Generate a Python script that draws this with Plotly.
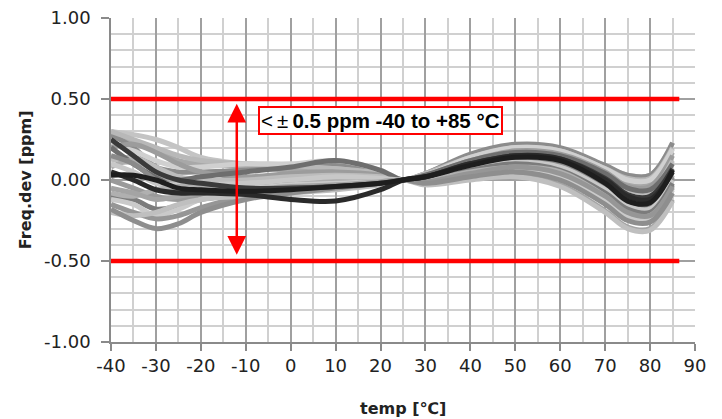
import plotly.graph_objects as go

# temperatures (°C) at which each curve is sampled
temps = [-40, -35, -30, -25, -20, -10, 0, 10, 20, 25, 30, 40, 50, 60, 70, 75, 80, 85]

# frequency deviation curves (ppm), one list per unit
c01 = [0.30, 0.28, 0.25, 0.20, 0.14, 0.10, 0.09, 0.08, 0.04, 0.0, 0.04, 0.15, 0.21, 0.19, 0.08, 0.03, 0.03, 0.23]
c02 = [0.27, 0.24, 0.18, 0.12, 0.10, 0.08, 0.06, 0.05, 0.03, 0.0, 0.03, 0.13, 0.19, 0.17, 0.06, -0.02, -0.02, 0.17]
c03 = [0.25, 0.15, 0.05, 0.00, -0.02, -0.05, -0.05, -0.04, -0.02, 0.0, 0.02, 0.10, 0.15, 0.13, 0.01, -0.09, -0.10, 0.07]
c04 = [0.03, 0.03, 0.00, -0.05, -0.06, -0.07, -0.06, -0.04, -0.02, 0.0, 0.02, 0.09, 0.14, 0.12, -0.02, -0.13, -0.14, 0.06]
c05 = [0.20, 0.22, 0.17, 0.10, 0.05, 0.02, 0.04, 0.05, 0.03, 0.0, 0.03, 0.12, 0.18, 0.16, 0.05, -0.04, -0.04, 0.15]
c06 = [0.10, 0.05, -0.02, -0.03, -0.03, -0.02, 0.00, 0.02, 0.01, 0.0, 0.01, 0.07, 0.11, 0.08, -0.06, -0.16, -0.18, 0.00]
c07 = [-0.18, -0.25, -0.30, -0.27, -0.20, -0.12, -0.08, -0.05, -0.02, 0.0, -0.02, 0.02, 0.05, 0.00, -0.15, -0.25, -0.26, -0.08]
c08 = [-0.15, -0.20, -0.24, -0.22, -0.17, -0.10, -0.06, -0.04, -0.02, 0.0, -0.01, 0.04, 0.08, 0.04, -0.10, -0.20, -0.22, -0.04]
c09 = [-0.10, -0.12, -0.18, -0.16, -0.12, -0.09, -0.07, -0.05, -0.02, 0.0, 0.00, 0.06, 0.10, 0.06, -0.08, -0.18, -0.20, -0.02]
c10 = [0.05, 0.00, -0.06, -0.08, -0.08, -0.09, -0.12, -0.13, -0.06, 0.0, 0.02, 0.10, 0.15, 0.13, 0.00, -0.10, -0.12, 0.05]
c11 = [0.15, 0.10, 0.00, -0.06, -0.08, -0.08, -0.06, -0.05, -0.02, 0.0, 0.01, 0.08, 0.12, 0.09, -0.05, -0.15, -0.16, 0.02]
c12 = [-0.05, -0.08, -0.12, -0.10, -0.08, -0.06, -0.04, -0.03, -0.01, 0.0, -0.02, 0.01, 0.03, -0.03, -0.19, -0.29, -0.30, -0.12]
c13 = [0.28, 0.20, 0.08, 0.05, 0.05, 0.06, 0.08, 0.10, 0.05, 0.0, 0.04, 0.16, 0.22, 0.20, 0.09, 0.03, 0.03, 0.23]
c14 = [0.22, 0.18, 0.12, 0.08, 0.08, 0.10, 0.10, 0.12, 0.06, 0.0, 0.03, 0.14, 0.20, 0.18, 0.07, 0.00, 0.00, 0.19]
c15 = [-0.20, -0.22, -0.20, -0.15, -0.12, -0.10, -0.08, -0.06, -0.03, 0.0, -0.03, 0.00, 0.02, -0.04, -0.20, -0.30, -0.31, -0.13]
c16 = [0.00, -0.05, -0.10, -0.12, -0.10, -0.06, -0.03, -0.02, -0.01, 0.0, 0.01, 0.05, 0.09, 0.05, -0.09, -0.19, -0.21, -0.03]
c17 = [0.12, 0.14, 0.08, 0.02, 0.00, 0.00, 0.02, 0.03, 0.02, 0.0, 0.02, 0.11, 0.16, 0.14, 0.03, -0.06, -0.07, 0.12]
c18 = [-0.12, -0.15, -0.22, -0.18, -0.12, -0.06, -0.03, -0.02, -0.01, 0.0, -0.01, 0.03, 0.06, 0.02, -0.12, -0.22, -0.24, -0.06]
c19 = [0.20, 0.10, 0.02, 0.00, 0.02, 0.05, 0.08, 0.12, 0.06, 0.0, 0.03, 0.12, 0.17, 0.15, 0.04, -0.05, -0.06, 0.10]
c20 = [0.08, 0.12, 0.05, -0.02, -0.05, -0.04, -0.02, 0.00, 0.00, 0.0, 0.02, 0.08, 0.13, 0.10, -0.04, -0.14, -0.15, 0.03]
c21 = [-0.08, -0.10, -0.06, -0.04, -0.04, -0.05, -0.04, -0.02, -0.01, 0.0, 0.00, 0.05, 0.08, 0.05, -0.10, -0.21, -0.22, -0.05]
c22 = [0.30, 0.25, 0.20, 0.15, 0.12, 0.10, 0.09, 0.07, 0.04, 0.0, 0.04, 0.14, 0.20, 0.18, 0.07, 0.01, 0.01, 0.20]

curves = [c01, c02, c13, c22, c14, c05, c17, c19, c20, c11, c06, c16, c09,
          c21, c18, c08, c12, c15, c07, c03, c10, c04]
shades = ["#c4c4c4", "#a8a8a8", "#8c8c8c", "#b8b8b8", "#d0d0d0", "#9c9c9c", "#bcbcbc",
          "#6e6e6e", "#adadad", "#8a8a8a", "#c8c8c8", "#9a9a9a", "#7c7c7c",
          "#b0b0b0", "#cacaca", "#969696", "#a4a4a4", "#bfbfbf", "#8e8e8e",
          "#3a3a3a", "#2a2a2a", "#1e1e1e"]

# axis ticks
x_ticks = [-40, -30, -20, -10, 0, 10, 20, 30, 40, 50, 60, 70, 80, 90]
x_labels = ["-40", "-30", "-20", "-10", "0", "10", "20", "30", "40", "50", "60", "70", "80", "90"]
y_ticks = [-1.0, -0.5, 0.0, 0.5, 1.0]
y_labels = ["-1.00", "-0.50", "0.00", "0.50", "1.00"]

# specification limits
limit_x = [-40, 86.5]
limit_hi = [0.5, 0.5]
limit_lo = [-0.5, -0.5]

arrow_x = -12
arrow_top = 0.47
arrow_bot = -0.47
label_text = "<\u2009±\u2009<b>0.5 ppm -40 to +85 °C</b>"
label_x = 20.1
label_y = 0.366

fig = go.Figure()
for vals, col in zip(curves, shades):
    fig.add_trace(go.Scatter(x=temps, y=vals, mode="lines",
                             line=dict(color=col, width=5, shape="spline", smoothing=1.0),
                             showlegend=False, hoverinfo="skip"))

for ly in (limit_hi, limit_lo):
    fig.add_trace(go.Scatter(x=limit_x, y=ly, mode="lines",
                             line=dict(color="#ff0000", width=4.5),
                             showlegend=False, hoverinfo="skip"))

fig.add_annotation(x=arrow_x, y=arrow_top, ax=arrow_x, ay=arrow_bot,
                   xref="x", yref="y", axref="x", ayref="y",
                   text="", showarrow=True, arrowside="end+start",
                   arrowhead=2, arrowsize=1.5, arrowwidth=2.5, arrowcolor="#ff0000")

fig.add_annotation(x=label_x, y=label_y, xref="x", yref="y", text=label_text,
                   showarrow=False, bgcolor="white", bordercolor="#ff0000", borderwidth=2,
                   borderpad=1,
                   font=dict(family="Liberation Sans, Arial, sans-serif", size=20.5, color="black"))

axis_font = dict(family="DejaVu Sans, sans-serif", size=18, color="#222222")
title_font = dict(family="DejaVu Sans, sans-serif", size=16, color="#222222")

# axis titles placed explicitly
fig.add_annotation(x=-0.147, y=0.5, xref="paper", yref="paper", xanchor="center", yanchor="middle",
                   text="<b>Freq.dev [ppm]</b>", textangle=-90, showarrow=False,
                   font=title_font)
fig.add_annotation(x=0.5, y=-0.204, xref="paper", yref="paper", xanchor="center", yanchor="middle",
                   text="<b>temp [℃]</b>", showarrow=False, font=title_font)

fig.update_layout(
    width=722, height=419,
    margin=dict(l=103, r=35, t=10, b=85),
    paper_bgcolor="white", plot_bgcolor="white",
    xaxis=dict(range=[-40, 90], tickvals=x_ticks, ticktext=x_labels, automargin=False,
               showgrid=True, gridcolor="#a0a0a0", gridwidth=1.5,
               minor=dict(dtick=5, tick0=-40, showgrid=True, gridcolor="#d0d0d0", gridwidth=1.5),
               showline=True, linecolor="#8a8a8a", linewidth=1.5,
               ticks="outside", ticklen=7, tickcolor="#8a8a8a", tickwidth=1.5,
               ticklabeloverflow="allow",
               tickfont=axis_font, zeroline=False),
    yaxis=dict(range=[-1, 1], tickvals=y_ticks, ticktext=y_labels, automargin=False,
               showgrid=True, gridcolor="#a0a0a0", gridwidth=1.5,
               minor=dict(dtick=0.1, tick0=-1, showgrid=True, gridcolor="#d0d0d0", gridwidth=1.5),
               showline=True, linecolor="#8a8a8a", linewidth=1.5,
               ticks="outside", ticklen=8, tickcolor="#8a8a8a", tickwidth=1.5,
               ticklabelstandoff=7, ticklabeloverflow="allow",
               tickfont=axis_font, zeroline=False),
)

fig.write_html("out.html")
